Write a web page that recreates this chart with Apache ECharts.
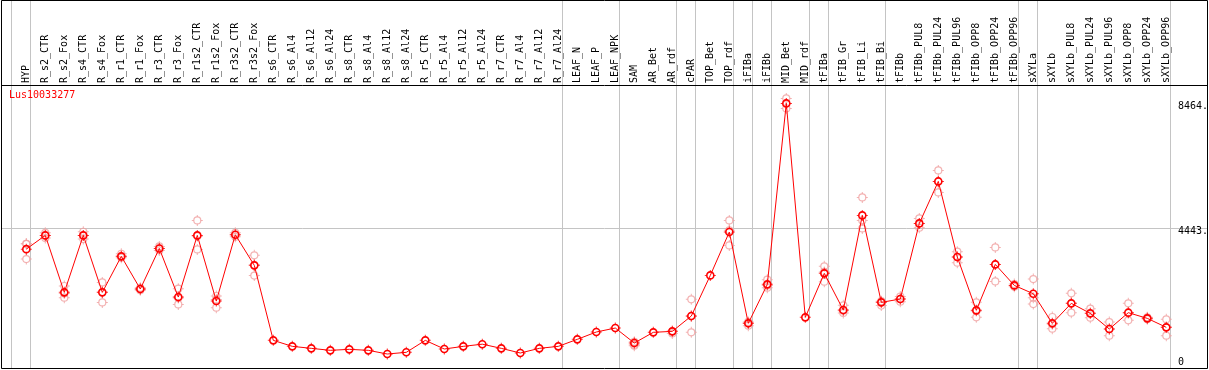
<!DOCTYPE html>
<html><head><meta charset="utf-8">
<script src="https://cdn.jsdelivr.net/npm/echarts@6/dist/echarts.min.js"></script>
<style>html,body{margin:0;padding:0;background:#fff}#c{width:1209px;height:370px}</style>
</head><body><div id="c"></div>
<script>
const geneName = 'Lus10033277';
const categories = ['HYP','R_s2_CTR','R_s2_Fox','R_s4_CTR','R_s4_Fox','R_r1_CTR','R_r1_Fox','R_r3_CTR','R_r3_Fox','R_r1s2_CTR','R_r1s2_Fox','R_r3s2_CTR','R_r3s2_Fox','R_s6_CTR','R_s6_Al4','R_s6_Al12','R_s6_Al24','R_s8_CTR','R_s8_Al4','R_s8_Al12','R_s8_Al24','R_r5_CTR','R_r5_Al4','R_r5_Al12','R_r5_Al24','R_r7_CTR','R_r7_Al4','R_r7_Al12','R_r7_Al24','LEAF_N','LEAF_P','LEAF_NPK','SAM','AR_Bet','AR_rdf','cPAR','TOP_Bet','TOP_rdf','iFIBa','iFIBb','MID_Bet','MID_rdf','tFIBa','tFIB_Gr','tFIB_Li','tFIB_Bi','tFIBb','tFIBb_PUL8','tFIBb_PUL24','tFIBb_PUL96','tFIBb_OPP8','tFIBb_OPP24','tFIBb_OPP96','sXYLa','sXYLb','sXYLb_PUL8','sXYLb_PUL24','sXYLb_PUL96','sXYLb_OPP8','sXYLb_OPP24','sXYLb_OPP96'];
const means = [3774,4216,2383,4216,2383,3541,2490,3796,2232,4216,2104,4237,3252,
  838,645,581,517,549,517,399,453,838,560,645,715,581,431,581,645,
  871,1107,1235,753,1096,1128,1621,2929,4323,1386,2640,8464,1578,2994,1814,4860,2061,2168,
  4602,5953,3520,1804,3282,2607,2339,1386,2029,1707,1203,1729,1546,1257];
const replicates = [
  [3946,3946,3453],[4300,4216,4130],[2587,2350,2211],[4334,4216,4098],[2701,2390,2058],
  [3626,3541,3498],[2530,2490,2450],[3860,3796,3730],[2500,2200,1996],[4698,4190,3765],
  [2265,2150,1890],[4300,4237,4170],[3574,3260,2922],
  [],[],[],[],[],[],[],[],[],[],[],[],[],[],[],[],
  [],[],[],[790,700,667],[],[1128,1060],[2157,1610,1096],[],[4698,4380,3894],[1430,1386,1310],
  [2790,2600,2533],[8623,8462,8301],[],[3219,3040,2726],[1964,1790,1720],[5439,4698,4441],
  [2100,2061,1957],[2250,2168,2080],[4763,4600,4463],[6307,5953,5599],[3692,3520,3338],
  [2061,1780,1578],[3829,3282,2735],[2650,2607,2560],[2811,2211,2007],[1590,1360,1215],
  [2351,2029,1729],[1857,1707,1568],[1428,1203,989],[2029,1729,1482],[1580,1546,1520],[1514,1257,989]
];
const yTickValues = [0, 4443, 8464];
const yTickLabels = ['0', '4443.', '8464.'];
const gridLineValues = [4443];
const yMax = 9056;
const groupEnds = [-1, 0, 28, 31, 34, 35, 37, 38, 39, 41, 42, 45, 52, 53, 60];

const FONT = 'DejaVu Sans Mono';
const RED = '#ff0000', PINK = '#f0a0a0', GREY = '#c4c4c4';
const tickPath = 'path://M5,0h1v2h-1zM5,9h1v2h-1zM0,5h2v1h-2zM9,5h2v1h-2z';

const repData = [];
replicates.forEach((arr, i) => arr.forEach(v => repData.push([i, v])));

const chart = echarts.init(document.getElementById('c'), null, {renderer: 'canvas'});
chart.setOption({
  animation: false,
  backgroundColor: '#fff',
  grid: {left: 26.3, right: 42.7, top: 85, bottom: 3.6, containLabel: false},
  xAxis: {
    type: 'category', data: categories, boundaryGap: false, position: 'top',
    axisLine: {show: false}, axisTick: {show: false}, splitLine: {show: false},
    axisLabel: {rotate: 90, interval: 0, margin: 2, fontFamily: FONT, fontSize: 10, color: '#000', hideOverlap: false}
  },
  yAxis: {
    type: 'value', min: 0, max: yMax, show: false, splitLine: {show: false}
  },
  series: [
    {type: 'scatter', data: repData, symbol: 'circle', symbolSize: 7, z: 3,
     itemStyle: {color: 'rgba(0,0,0,0)', borderColor: PINK, borderWidth: 1.2}, silent: true},
    {type: 'scatter', data: repData, symbol: tickPath, symbolSize: 11, z: 3,
     itemStyle: {color: PINK}, silent: true},
    {type: 'line', data: means, symbol: 'circle', symbolSize: 7, z: 5, showAllSymbol: true,
     lineStyle: {color: RED, width: 1},
     itemStyle: {color: 'rgba(0,0,0,0)', borderColor: RED, borderWidth: 1.6}, silent: true},
    {type: 'scatter', data: means.map((v, i) => [i, v]), symbol: tickPath, symbolSize: 11, z: 6,
     itemStyle: {color: RED}, silent: true}
  ]
});

const px = i => chart.convertToPixel({xAxisIndex: 0}, i);
const py = v => chart.convertToPixel({yAxisIndex: 0}, v);
const step = px(1) - px(0);
const L = 1, R = 1208, T = 0, B = 368;
const g = [];
groupEnds.forEach(i => {
  const x = Math.round(px(0) + (i + 0.21) * step) + 0.5;
  g.push({type: 'line', z: 0, shape: {x1: x, y1: T, x2: x, y2: B}, style: {stroke: GREY, lineWidth: 1}});
});
gridLineValues.forEach(v => {
  const y = Math.round(py(v)) + 0.5;
  g.push({type: 'line', z: 0, shape: {x1: L, y1: y, x2: R, y2: y}, style: {stroke: GREY, lineWidth: 1}});
});
g.push({type: 'line', z: 1, shape: {x1: L, y1: 85.5, x2: R, y2: 85.5}, style: {stroke: '#000', lineWidth: 1}});
g.push({type: 'rect', z: 1, shape: {x: L + 0.5, y: T + 0.5, width: R - L - 1, height: B - T}, style: {fill: 'none', stroke: '#000', lineWidth: 1}});
const labelX = Math.round(px(60) + 0.21 * step) + 8;
yTickValues.forEach((v, k) => {
  const y = py(v);
  const atBottom = v === 0;
  g.push({type: 'text', z: 2, x: labelX, y: atBottom ? B - 1 : y - 2,
    style: {text: yTickLabels[k], font: '10px "' + FONT + '"', fill: '#000', align: 'left', verticalAlign: atBottom ? 'bottom' : 'top'}});
});
g.push({type: 'text', z: 2, x: 9, y: 90, style: {text: geneName, font: '10px "' + FONT + '"', fill: RED, align: 'left', verticalAlign: 'top'}});
chart.setOption({graphic: g});
</script></body></html>
